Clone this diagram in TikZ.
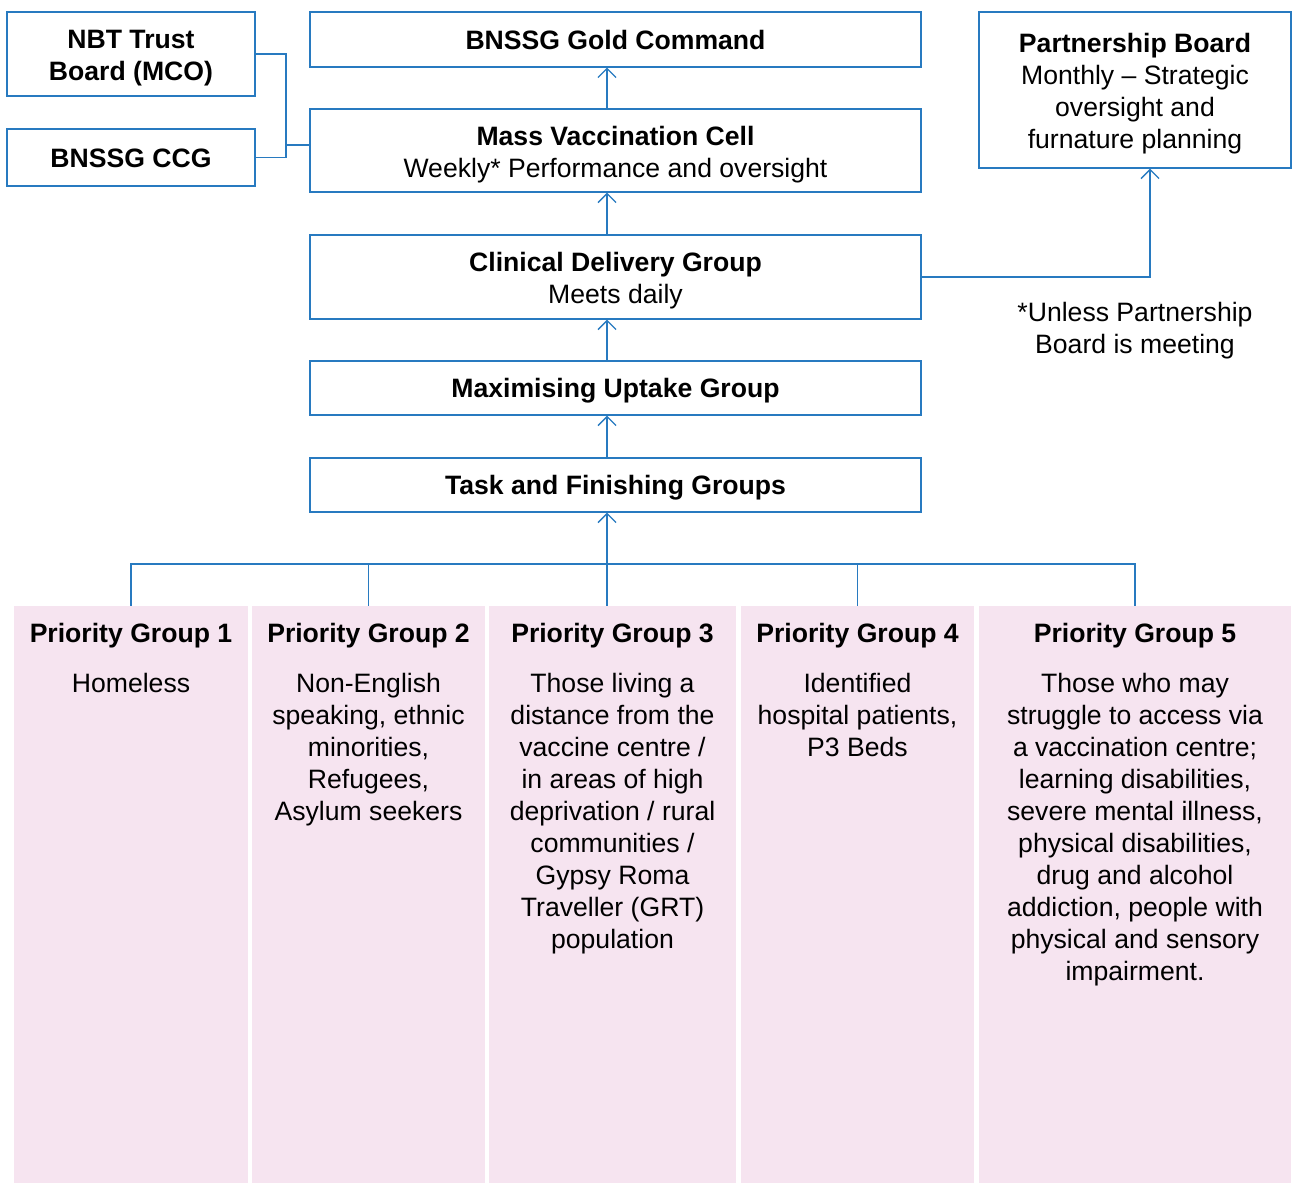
\documentclass[tikz,border=0pt]{standalone}
\usepackage{fontspec}
\setmainfont{Liberation Sans}
\usetikzlibrary{arrows.meta}
\definecolor{lineblue}{RGB}{40,122,192}
\definecolor{pinkfill}{RGB}{246,228,240}
\newcommand{\tstrut}{\rule{0pt}{27.5pt}}
\newcommand{\bstrut}{\rule[-5.6pt]{0pt}{0pt}}
\begin{document}
\begin{tikzpicture}[x=1pt,y=-1pt,
  every node/.style={font=\fontsize{26.6}{32}\selectfont, inner sep=0pt, align=center},
  struts/.style={execute at begin node={\rule{0pt}{25pt}}, execute at end node={\rule[-6pt]{0pt}{0pt}}},
  box/.style={draw=lineblue, line width=1.3pt, fill=white},
  pinkbox/.style={fill=pinkfill, draw=none},
  conn/.style={draw=lineblue, line width=1.3pt},
  arr/.style={conn, -{Straight Barb[length=9pt,width=18pt,line width=1.3pt]}}]
\useasboundingbox (0,0) rectangle (1292,1183);
% top boxes
\node[box, minimum width=248pt, minimum height=84pt] (nbt) at (131,54) {\tstrut\textbf{NBT Trust}\\\textbf{Board (MCO)}\bstrut};
\node[box, struts, minimum width=248pt, minimum height=57pt] (ccg) at (131,157.5) {\textbf{BNSSG CCG}};
\node[box, struts, minimum width=611pt, minimum height=55pt] (gold) at (615.5,39.5) {\textbf{BNSSG Gold Command}};
\node[box, minimum width=611pt, minimum height=83pt] (mvc) at (615.5,150.5) {\tstrut\textbf{Mass Vaccination Cell}\\Weekly* Performance and oversight\bstrut};
\node[box, minimum width=611pt, minimum height=84pt] (cdg) at (615.5,277) {\tstrut\textbf{Clinical Delivery Group}\\Meets daily\bstrut};
\node[box, struts, minimum width=611pt, minimum height=54pt] (mug) at (615.5,388) {\textbf{Maximising Uptake Group}};
\node[box, struts, minimum width=611pt, minimum height=54pt] (tfg) at (615.5,485) {\textbf{Task and Finishing Groups}};
\node[box, minimum width=312pt, minimum height=156pt] (pb) at (1135,90) {\tstrut\textbf{Partnership Board}\\Monthly -- Strategic\\oversight and\\furnature planning\bstrut};
\node (note) at (1135,327) {\tstrut*Unless Partnership\\Board is meeting\bstrut};
% pink boxes
\node[pinkbox, minimum width=234pt, minimum height=577pt] (pg1) at (131,894.5) {};
\node[pinkbox, minimum width=233pt, minimum height=577pt] (pg2) at (368.5,894.5) {};
\node[pinkbox, minimum width=247pt, minimum height=577pt] (pg3) at (612.5,894.5) {};
\node[pinkbox, minimum width=233pt, minimum height=577pt] (pg4) at (857.5,894.5) {};
\node[pinkbox, minimum width=312pt, minimum height=577pt] (pg5) at (1135,894.5) {};
\node[anchor=north] (pg1t) at (131,623) {\textbf{Priority Group 1}\\[18pt]Homeless};
\node[anchor=north] (pg2t) at (368.5,623) {\textbf{Priority Group 2}\\[18pt]Non-English\\speaking, ethnic\\minorities,\\Refugees,\\Asylum seekers};
\node[anchor=north] (pg3t) at (612.5,623) {\textbf{Priority Group 3}\\[18pt]Those living a\\distance from the\\vaccine centre /\\in areas of high\\deprivation / rural\\communities /\\Gypsy Roma\\Traveller (GRT)\\population};
\node[anchor=north] (pg4t) at (857.5,623) {\textbf{Priority Group 4}\\[18pt]Identified\\hospital patients,\\P3 Beds};
\node[anchor=north] (pg5t) at (1135,623) {\textbf{Priority Group 5}\\[18pt]Those who may\\struggle to access via\\a vaccination centre;\\learning disabilities,\\severe mental illness,\\physical disabilities,\\drug and alcohol\\addiction, people with\\physical and sensory\\impairment.};
% helper coordinates
\coordinate (ax) at (607,0);
\coordinate (px) at (1150,0);
\coordinate (j) at (286,145);
\coordinate (bus) at (0,564);
% connectors
\draw[arr] (mvc.north -| ax) -- (gold.south -| ax);
\draw[arr] (cdg.north -| ax) -- (mvc.south -| ax);
\draw[arr] (mug.north -| ax) -- (cdg.south -| ax);
\draw[arr] (tfg.north -| ax) -- (mug.south -| ax);
\draw[arr] (pg3.north -| ax) -- (tfg.south -| ax);
\draw[arr] (cdg.east) -| (pb.south -| px);
\draw[conn] (nbt.east) -| (j) |- (ccg.east);
\draw[conn] (j) -- (j -| mvc.west);
\draw[conn] (pg1.north) -- (pg1.north |- bus) -- (pg5.north |- bus) -- (pg5.north);
\draw[conn] (pg2.north) -- (pg2.north |- bus);
\draw[conn] (pg4.north) -- (pg4.north |- bus);
\end{tikzpicture}
\end{document}
